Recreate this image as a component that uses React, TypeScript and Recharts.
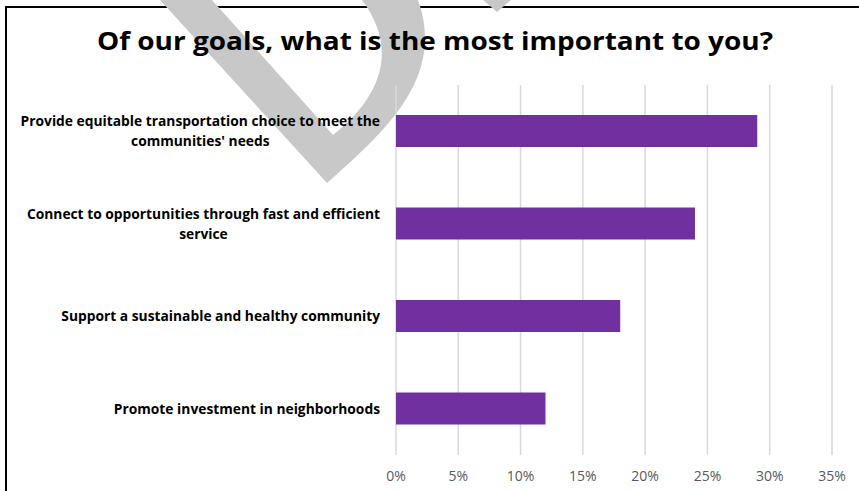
import React from 'react';
import { BarChart, Bar, XAxis, YAxis, CartesianGrid } from 'recharts';

const categories = [
  "Provide equitable transportation choice to meet the\ncommunities' needs",
  "Connect to opportunities through fast and efficient\nservice",
  "Support a sustainable and healthy community",
  "Promote investment in neighborhoods",
];
const shares = [29, 24, 18, 12];
const xTicks = [0, 5, 10, 15, 20, 25, 30, 35];
const title = 'Of our goals, what is the most important to you?';

const data = categories.map((name, i) => ({ name, value: shares[i] }));

const FONT = '"Open Sans"';
const LABEL_SIZE = 13.8;

let ctx: CanvasRenderingContext2D | null = null;
function measure(text: string, font: string): number {
  if (!ctx) {
    const c = document.createElement('canvas');
    ctx = c.getContext('2d');
  }
  if (!ctx) return text.length * 7;
  ctx.font = font;
  return ctx.measureText(text).width;
}

const CategoryTick = (props: any) => {
  const { x, y, payload } = props;
  const lines = String(payload.value).split('\n');
  const widths = lines.map((l) => measure(l, `bold ${LABEL_SIZE}px ${FONT}`));
  const maxW = Math.max(...widths);
  const cx = x - maxW / 2;
  const lh = 20;
  const startY = y - ((lines.length - 1) * lh) / 2;
  return (
    <text textAnchor="middle" fontWeight="bold" fontSize={LABEL_SIZE} fill="#000" fontFamily={FONT}>
      {lines.map((l, i) => (
        <tspan key={i} x={cx} y={startY + i * lh} dy="0.35em">
          {l}
        </tspan>
      ))}
    </text>
  );
};

export default function App() {
  return (
    <div style={{ position: 'absolute', left: 0, top: 0, width: 859, height: 491, background: '#fff', fontFamily: FONT }}>
      <svg width={859} height={491} style={{ position: 'absolute', left: 0, top: 0 }}>
        <line x1={6} y1={7} x2={859} y2={7} stroke="#000" strokeWidth={2} />
        <line x1={6} y1={6} x2={6} y2={491} stroke="#000" strokeWidth={2} />
        <path d="M160,0 L327,183 C390,128 445,75 418,0 L362,0 C392,40 392,88 333,135 L212,0 Z" fill="#c8c8c8" />
        <path d="M483,0 L511,0 L497,12 Z" fill="#c8c8c8" />
      </svg>
      <div style={{ position: 'absolute', left: 0, top: 0 }}>
        <BarChart
          width={859}
          height={491}
          data={data}
          layout="vertical"
          margin={{ top: 85, right: 27, bottom: 6, left: 0 }}
        >
          <CartesianGrid horizontal={false} stroke="#d9d9d9" strokeWidth={1.5} />
          <XAxis
            type="number"
            domain={[0, 35]}
            ticks={xTicks}
            interval={0}
            axisLine={false}
            tickLine={false}
            tickSize={0}
            tickMargin={16}
            height={30}
            tickFormatter={(v: number) => `${v}%`}
            tick={{ fill: '#595959', fontSize: 14, fontFamily: FONT }}
          />
          <YAxis
            type="category"
            dataKey="name"
            width={396}
            axisLine={false}
            tickLine={false}
            tickSize={0}
            tickMargin={16}
            interval={0}
            tick={<CategoryTick />}
          />
          <Bar dataKey="value" fill="#7030A0" barSize={32} isAnimationActive={false} />
        </BarChart>
      </div>
      <svg width={859} height={491} style={{ position: 'absolute', left: 0, top: 0, pointerEvents: 'none' }}>
        <text
          x={97}
          y={50}
          textLength={676}
          lengthAdjust="spacingAndGlyphs"
          fontWeight="bold"
          fontSize={25}
          fontFamily={FONT}
          fill="#000"
        >
          {title}
        </text>
      </svg>
    </div>
  );
}
